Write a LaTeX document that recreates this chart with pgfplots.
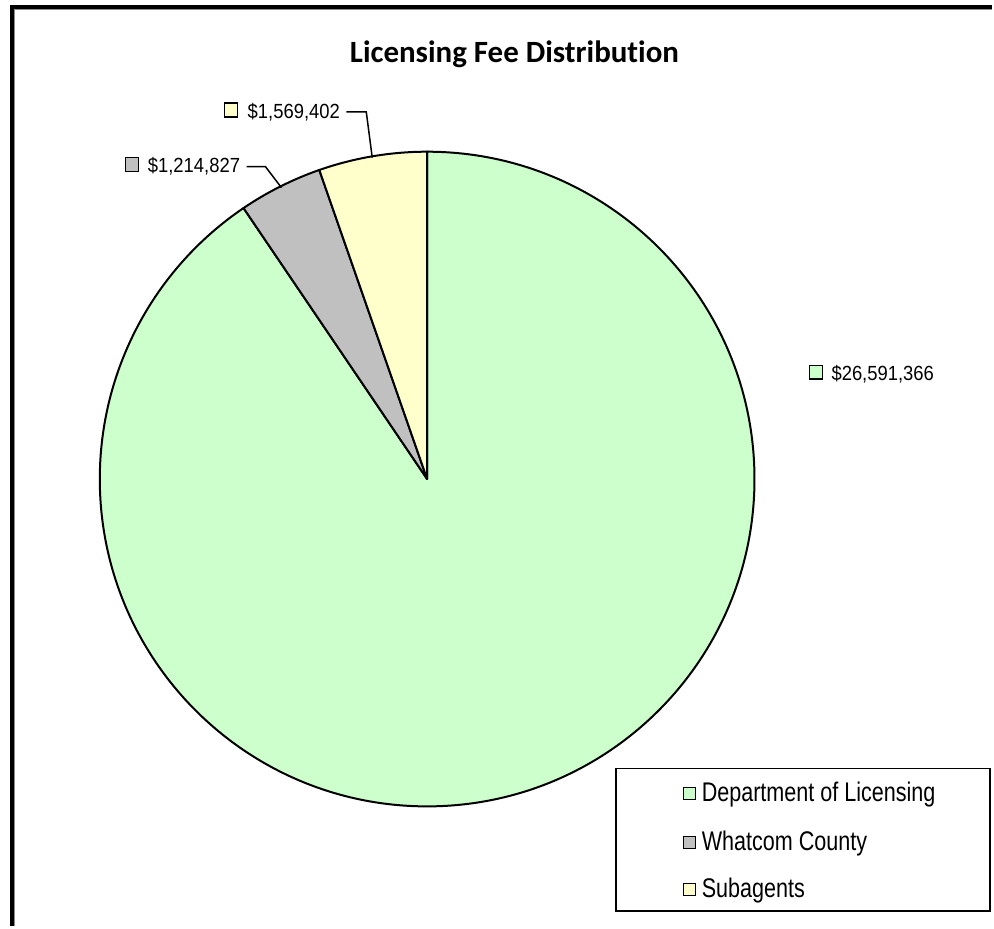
\documentclass[border=0pt]{standalone}
\usepackage{pgfplots}
\pgfplotsset{compat=1.18}
\usepackage{pgfplotstable}
\usepackage{fontspec}
\setmainfont{Liberation Sans}
\newfontfamily\titlefont[Ligatures={NoCommon,NoContextual}]{Carlito}
\newfontfamily\labelfont[FakeStretch=0.9]{Liberation Sans}
\newfontfamily\legendfont[FakeStretch=0.8]{Liberation Sans}
\definecolor{dol}{HTML}{CCFFCC}
\definecolor{wc}{HTML}{C0C0C0}
\definecolor{sub}{HTML}{FFFFCC}

\pgfplotstableread[col sep=comma]{
name,value
Department of Licensing,26591366
Whatcom County,1214827
Subagents,1569402
}\feetable

\begin{document}
\begin{tikzpicture}
\pgfplotstablegetelem{0}{value}\of\feetable \edef\va{\pgfplotsretval}
\pgfplotstablegetelem{1}{value}\of\feetable \edef\vb{\pgfplotsretval}
\pgfplotstablegetelem{2}{value}\of\feetable \edef\vc{\pgfplotsretval}
\edef\aA{\fpeval{90-360*\va/(\va+\vb+\vc)}}
\edef\aB{\fpeval{\aA-360*\vb/(\va+\vb+\vc)}}
\begin{axis}[
  x=1pt, y=1pt,
  xmin=-428, xmax=566, ymin=-448, ymax=480,
  hide axis, clip=false,
  anchor=origin, at={(0,0)},
]
% bounding area
\path[fill=white] (axis cs:-428,-448) rectangle (axis cs:566,480);
% frame (left and top)
\draw[line width=4pt, black, line join=miter] (axis cs:-415.5,-448) -- (axis cs:-415.5,473) -- (axis cs:566,473);
\draw[line width=1pt, black!45] (axis cs:-413,-448) -- (axis cs:-413,470.5) -- (axis cs:566,470.5);
% title
\node[anchor=base, inner sep=0pt, font=\titlefont\bfseries\fontsize{31}{36}\selectfont] at (axis cs:87.5,417) {Licensing Fee Distribution};
% wedges
\filldraw[fill=dol, draw=black, line width=2pt, line join=round] (axis cs:0,0) -- +(90:328pt) arc[start angle=90, end angle=\aA, radius=328pt] -- cycle;
\filldraw[fill=wc, draw=black, line width=2pt, line join=round] (axis cs:0,0) -- +(\aA:328pt) arc[start angle=\aA, end angle=\aB, radius=328pt] -- cycle;
\filldraw[fill=sub, draw=black, line width=2pt, line join=round] (axis cs:0,0) -- +(\aB:328pt) arc[start angle=\aB, end angle=-270, radius=328pt] -- cycle;
% leader lines
\draw[line width=1.5pt] (axis cs:-81,368) -- (axis cs:-61,368) -- (axis cs:-55,322);
\draw[line width=1.5pt] (axis cs:-181,313) -- (axis cs:-162,313) -- (axis cs:-146,292);
% data labels
\draw[fill=sub, line width=1.5pt] (axis cs:-203,363) rectangle (axis cs:-190,377);
\node[anchor=base west, inner sep=0pt, font=\labelfont\fontsize{20.5}{24}\selectfont] at (axis cs:-180,361) {\$1,569,402};
\draw[fill=wc, line width=1.5pt] (axis cs:-302,308) rectangle (axis cs:-289,322);
\node[anchor=base west, inner sep=0pt, font=\labelfont\fontsize{20.5}{24}\selectfont] at (axis cs:-280,307) {\$1,214,827};
\draw[fill=dol, line width=1.5pt] (axis cs:383,100) rectangle (axis cs:396,114);
\node[anchor=base west, inner sep=0pt, font=\labelfont\fontsize{20.5}{24}\selectfont] at (axis cs:405,99) {\$26,591,366};
% legend
\draw[line width=1.5pt, fill=white] (axis cs:189,-290) rectangle (axis cs:564,-433);
\draw[fill=dol, line width=1.3pt] (axis cs:257,-309) rectangle (axis cs:269,-321);
\node[anchor=base west, inner sep=0pt, font=\legendfont\fontsize{27}{32}\selectfont] at (axis cs:275,-323) {Department of Licensing};
\draw[fill=wc, line width=1.3pt] (axis cs:257,-358) rectangle (axis cs:269,-370);
\node[anchor=base west, inner sep=0pt, font=\legendfont\fontsize{27}{32}\selectfont] at (axis cs:275,-372) {Whatcom County};
\draw[fill=sub, line width=1.3pt] (axis cs:257,-405) rectangle (axis cs:269,-417);
\node[anchor=base west, inner sep=0pt, font=\legendfont\fontsize{27}{32}\selectfont] at (axis cs:275,-419) {Subagents};
\end{axis}
\end{tikzpicture}
\end{document}
